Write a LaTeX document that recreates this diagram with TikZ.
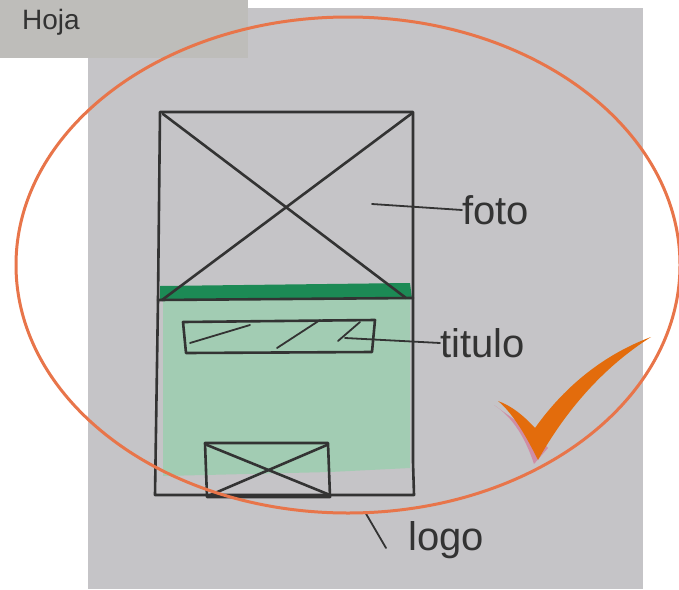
\documentclass[tikz,border=0pt]{standalone}
\usepackage{fontspec}
\setmainfont{Liberation Sans}
\definecolor{ink}{HTML}{333333}
\definecolor{photo}{HTML}{C5C4C7}
\definecolor{insetgray}{HTML}{BEBDBA}
\definecolor{lightgreen}{HTML}{A2CCB3}
\definecolor{darkgreen}{HTML}{1C8A55}
\definecolor{ringorange}{HTML}{E8754A}
\definecolor{tickorange}{HTML}{E36C0C}
\definecolor{tickpink}{HTML}{D8618A}
\begin{document}
\begin{tikzpicture}[x=1pt,y=-1pt,
  pen/.style={draw=ink, line width=2.6pt, line join=round, line cap=round},
  thinpen/.style={draw=ink, line width=1.8pt, line cap=round},
  lbl/.style={font=\fontsize{40}{40}\selectfont, text=ink, inner sep=0pt, anchor=west}]
\useasboundingbox (0,0) rectangle (679,589);
\fill[white] (0,0) rectangle (679,589);
\fill[photo] (88,8) rectangle (643,589);
\fill[insetgray] (0,0) rectangle (248,58);
\node[lbl, font=\fontsize{28}{28}\selectfont] (hoja) at (22,22) {Hoja};
% green body
\fill[lightgreen] (163,298) -- (410,298) -- (410,468) -- (330,472) -- (163,476) -- cycle;
\fill[darkgreen] (160,286) -- (410,283) -- (412,299) -- (160,300) -- cycle;
% frame
\draw[pen] (160,112) -- (413,112) -- (413,462) -- (414,495) -- (155,495) -- (158,300) -- (160,112);
\draw[pen] (158,300) -- (413,298);
% photo cross
\draw[pen] (163,114) -- (406,298);
\draw[pen] (411,114) -- (162,300);
% title box
\draw[pen] (183,322) -- (375,320) -- (372,352) -- (186,353) -- cycle;
\draw[thinpen] (190,343) -- (250,325);
\draw[thinpen] (277,348) -- (320,320);
\draw[thinpen] (338,341) -- (360,322);
% logo box
\draw[pen] (205,443) -- (328,443) -- (330,497) -- (207,497) -- cycle;
\draw[pen] (207,445) -- (330,495);
\draw[pen] (327,445) -- (208,496);
% labels and leaders
\node[lbl] (foto) at (462,210) {foto};
\node[lbl] (titulo) at (440,343) {titulo};
\node[lbl] (logo) at (408,540) {logo};
\coordinate (fotoend) at (372,204);
\coordinate (tituloend) at (345,338);
\coordinate (logoend) at (365,512);
\draw[thinpen] (fotoend) -- (foto.west);
\draw[thinpen] (tituloend) -- (titulo.west);
\draw[thinpen] (logoend) -- ([xshift=-22pt,yshift=-8pt]logo.west);
% orange ring
\draw[ringorange, line width=3pt] (348,265) ellipse [x radius=332, y radius=248];
% check mark
\fill[tickpink, opacity=0.55] ([shift={(-4,4)}]498,401) .. controls (514,418) and (526,440) .. (534,464) -- (548,448) -- (532,432) -- cycle;
\fill[tickorange] (498,401) .. controls (514,414) and (528,440) .. (538,460)
  .. controls (565,412) and (602,368) .. (651,337)
  .. controls (600,356) and (562,390) .. (535,428)
  .. controls (524,416) and (512,406) .. (498,401) -- cycle;
\end{tikzpicture}
\end{document}
